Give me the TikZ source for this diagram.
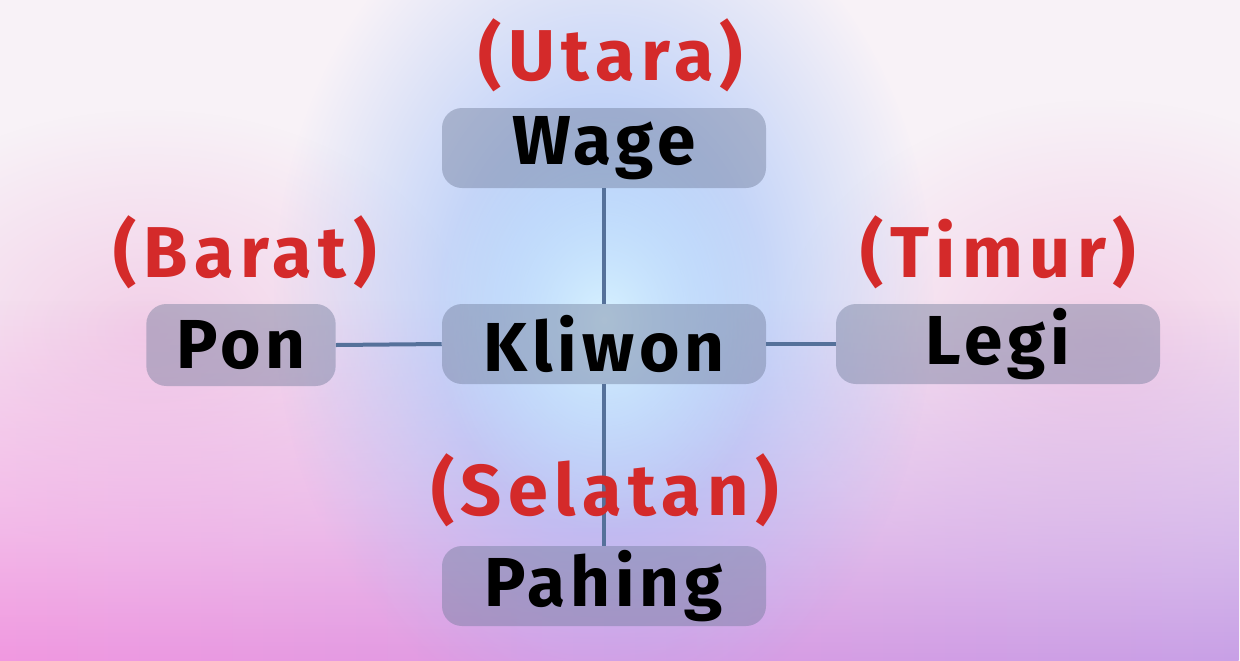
\documentclass[tikz,border=0pt]{standalone}
\usepackage{fontspec}
\setmainfont{Fira Sans}
\usetikzlibrary{fadings}
\definecolor{bgbase}{HTML}{F8F2F7}
\definecolor{pinkleft}{HTML}{F098E0}
\definecolor{pinkright}{HTML}{C8A0E6}
\definecolor{pinkside}{HTML}{F2CFE8}
\definecolor{glowblue}{HTML}{98BCFA}
\definecolor{glowcore}{HTML}{D8F2FF}
\definecolor{boxgray}{HTML}{6C7896}
\definecolor{linkblue}{HTML}{55719A}
\definecolor{dirred}{HTML}{D42A2A}
\tikzfading[name=glow, inner color=transparent!0, outer color=transparent!100]
\tikzset{
  daybox/.style={rounded corners=15pt, fill=boxgray, fill opacity=0.42, text opacity=1,
    minimum width=243pt, minimum height=60pt, inner sep=0pt,
    font=\fontsize{52}{56}\selectfont\bfseries\addfontfeature{LetterSpace=7}},
  dirlabel/.style={text=dirred, inner sep=0pt,
    font=\fontsize{54}{58}\selectfont\addfontfeature{LetterSpace=9}\bfseries},
  link/.style={draw=linkblue, line width=3pt}
}
\begin{document}
\begin{tikzpicture}[x=0.75pt, y=-0.75pt]
    \useasboundingbox (0,0) rectangle (1240,661);
    % background
    \fill [bgbase] (0,0) rectangle (1240,661);
    \fill [pinkside, path fading=glow] (150,330) ellipse (320 and 220);
    \fill [pinkside, path fading=glow] (1100,340) ellipse (320 and 240);
    \shade [left color=pinkleft, right color=pinkright, path fading=north] (0,300) rectangle (1240,661);
    \fill [glowblue, path fading=glow] (604,300) ellipse (330 and 430);
    \fill [glowcore, path fading=glow] (604,320) ellipse (170 and 210);
    % days
    \node [daybox] (wage) at (604,148) {Wage};
    \node [daybox] (kliwon) at (604,344) {Kliwon};
    \node [daybox, minimum width=142pt, minimum height=61.5pt] (pon) at (241,345) {Pon};
    \node [daybox] (legi) at (998,344) {Legi};
    \node [daybox] (pahing) at (604,586) {Pahing};
    % links
    \draw [link] (wage.south) -- (kliwon.north);
    \draw [link] (kliwon.south) -- (pahing.north);
    \draw [link] (pon.east) -- (kliwon.west);
    \draw [link] (kliwon.east) -- (legi.west);
    % directions
    \node [dirlabel] (utara) at (611,55) {(Utara)};
    \node [dirlabel] (barat) at (245,252) {(Barat)};
    \node [dirlabel] (timur) at (998,252) {(Timur)};
    \node [dirlabel] (selatan) at (605,490) {(Selatan)};
\end{tikzpicture}
\end{document}
